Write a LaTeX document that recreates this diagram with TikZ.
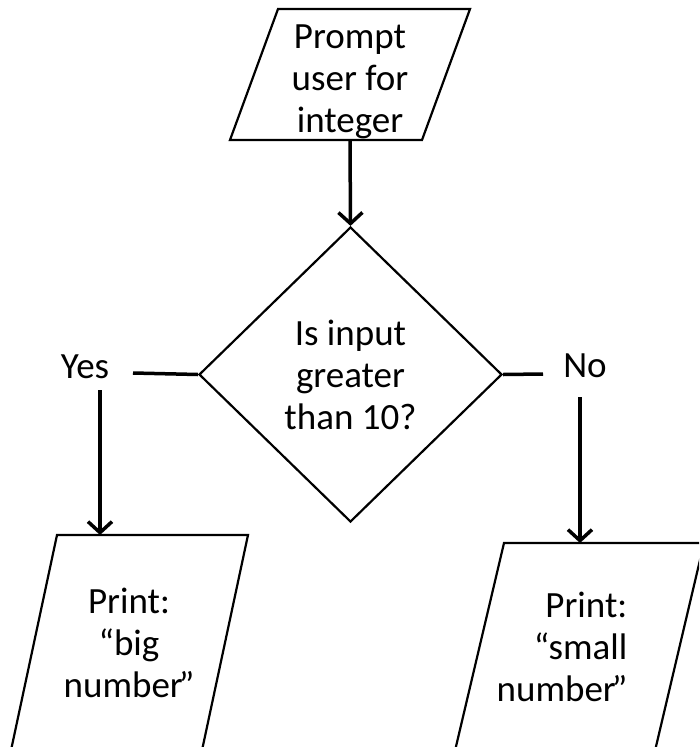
\documentclass[tikz,border=0pt]{standalone}
\usepackage{fontspec}
\setmainfont{Carlito}
\usetikzlibrary{arrows.meta,shapes.geometric}
\begin{document}
\begin{tikzpicture}[x=1pt,y=-1pt,
  shapeline/.style={line width=2.2pt, line join=miter},
  conn/.style={line width=3.5pt},
  arr/.style={conn, -{Straight Barb[length=11pt,width=24pt,line width=3.5pt]}},
  lbl/.style={font=\fontsize{37}{42}\selectfont, align=center, inner sep=0pt}]
\useasboundingbox (0,0) rectangle (699,747);
\clip (0,0) rectangle (699,747);
% top input box
\coordinate (t1) at (230,140); \coordinate (t2) at (422,140);
\coordinate (t3) at (470,9);   \coordinate (t4) at (278,9);
\draw[shapeline] (t1) -- (t2) -- (t3) -- (t4) -- cycle;
\node[lbl] (prompt) at (350,82) {Prompt\\user for\\integer};
% decision
\node[diamond, draw, shapeline, minimum width=303pt, minimum height=295pt,
      inner sep=0pt, lbl] (d) at (350.5,374.5) {Is input\\greater\\than 10?};
\coordinate (tb) at (350,140);
\draw[arr] (tb) -- (d.north);
% yes branch
\node[lbl] (yes) at (85,367) {Yes};
\coordinate (yesR) at (133,373);
\draw[conn] (d.west) -- (yesR);
\coordinate (yesD) at (100,390);
\coordinate (bigT) at (100,535);
\draw[arr] (yesD) -- (bigT);
\coordinate (b1) at (57,535);  \coordinate (b2) at (248,535);
\coordinate (b3) at (201,755); \coordinate (b4) at (10,755);
\draw[shapeline] (b1) -- (b2) -- (b3) -- (b4) -- cycle;
\node[lbl] (big) at (129,643) {Print:\\“big\\number\kern-4pt”};
% no branch
\node[lbl] (no) at (585,366) {No};
\coordinate (noL) at (543,374);
\draw[conn] (d.east) -- (noL);
\coordinate (noD) at (580,397);
\coordinate (smallT) at (580,543);
\draw[arr] (noD) -- (smallT);
\coordinate (s1) at (504,543); \coordinate (s2) at (704,543);
\coordinate (s3) at (654,755); \coordinate (s4) at (454,755);
\draw[shapeline] (s1) -- (s2) -- (s3) -- (s4) -- cycle;
\node[lbl, align=right] (small) at (562,647) {Print:\\“small\\number\kern-4pt”};
\end{tikzpicture}
\end{document}
